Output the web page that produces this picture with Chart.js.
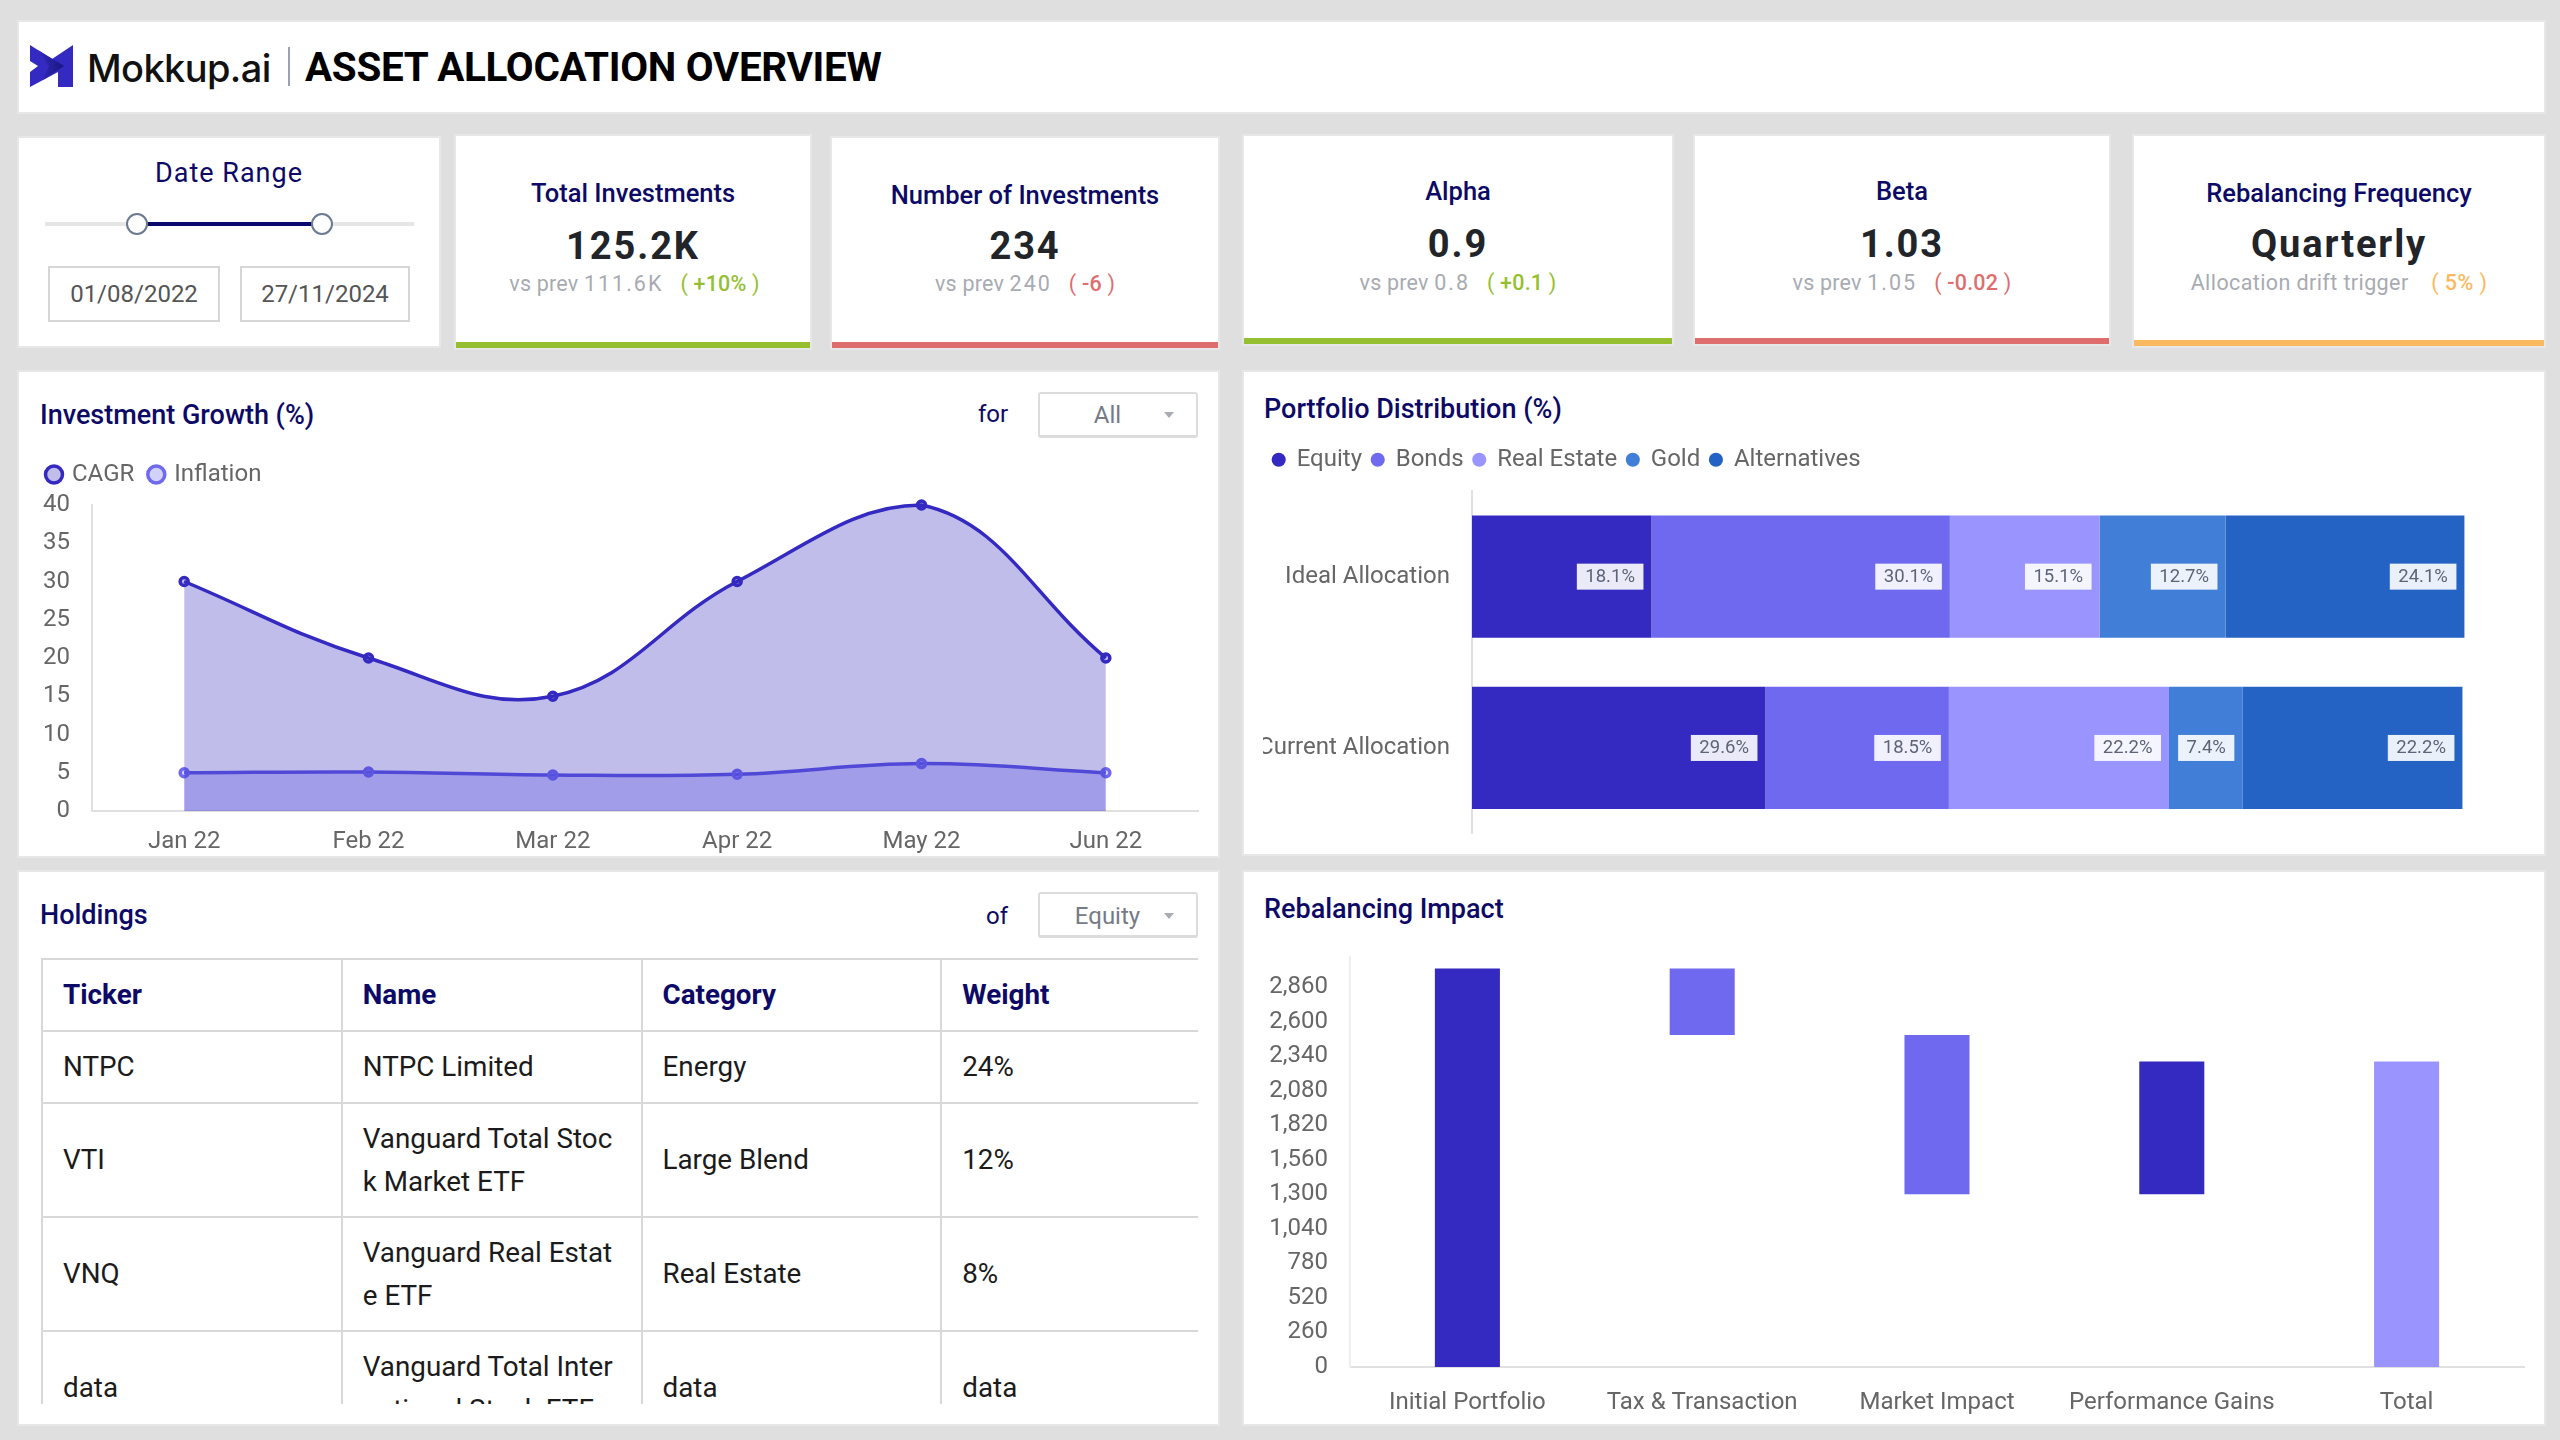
<!DOCTYPE html>
<html><head><meta charset="utf-8">
<script src="https://cdn.jsdelivr.net/npm/chart.js@4/dist/chart.umd.js"></script>
<style>
*{box-sizing:border-box}
html,body{margin:0;padding:0;background:#dfdfdf;width:2560px;height:1440px;overflow:hidden;font-family:Roboto,sans-serif}
.p{position:absolute;background:#fff;outline:2px solid #e7e7e7}
.t{position:absolute;white-space:nowrap;line-height:1}
.c{transform:translate(-50%,-50%)}
.m{transform:translateY(-50%)}
.navy{color:#0c0a66}
.title{font-size:27px;font-weight:500;color:#0c0a66}
.kt{font-size:25.5px;font-weight:500;color:#0c0a66}
.kv{font-size:38px;font-weight:700;color:#212529;letter-spacing:1.9px}
.ks{font-size:21.5px;color:#a8abb2;letter-spacing:.2px}
.ks i{font-style:normal;letter-spacing:2px;margin-right:11px}
.ks b{font-weight:400;margin-left:6px}
.ks b em{font-style:normal;font-weight:500}
.bar{position:absolute;left:0;right:0;bottom:0;height:6px}
.sel{position:absolute;border:2px solid #dcdcdc;border-bottom-width:3px;border-radius:3px;background:#fff}
.caret{position:absolute;width:0;height:0;border-left:5px solid transparent;border-right:5px solid transparent;border-top:6px solid #a9adb3}
canvas{position:absolute;display:block}
table{border-collapse:collapse;table-layout:fixed;width:1200px;font-size:27.8px;color:#1b1b1b}
td,th{border:2px solid #d8d8d8;padding:1px 20px 0;text-align:left;word-break:break-all;line-height:42.5px;font-weight:400}
th{color:#0c0a66;font-weight:700;height:72px}
tr.one td{height:72px}tr.two td{height:114px}
tr td:last-child,tr th:last-child{border-right:none}
</style></head><body>
<div class="p" style="left:19px;top:22px;width:2525px;height:90px"></div>
<svg style="position:absolute;left:30px;top:45px" width="44" height="43" viewBox="0 0 44 43">
<defs><linearGradient id="lg" x1="0" x2="1"><stop offset="0" stop-color="#3429c0"/><stop offset="1" stop-color="#17177c"/></linearGradient></defs>
<path d="M0 0 L22 14 L43 0 L43 42 L28 42 L28 27 L0 42 L0 27 L8 21 L0 16 Z" fill="#3429c0"/>
<path d="M8 5 L34 21 L13 35 L19 21 Z" fill="url(#lg)"/></svg>
<div class="t m" id="brand" style="left:87px;top:68px;font-size:38px;font-weight:500;font-family:Inter;color:#111;letter-spacing:-.6px">Mokkup.ai</div>
<div style="position:absolute;left:288px;top:47px;width:2px;height:39px;background:#9aa3b2"></div>
<div class="t m" style="left:305px;top:68px;font-size:40.4px;font-weight:700;color:#000;letter-spacing:-.3px">ASSET ALLOCATION OVERVIEW</div>

<div class="p" style="left:19px;top:138px;width:420px;height:208px"></div>
<div class="t c navy" style="left:229px;top:172.5px;font-size:27px;letter-spacing:1px">Date Range</div>
<div style="position:absolute;left:45px;top:222px;width:369px;height:4px;background:#e6e6e6"></div>
<div style="position:absolute;left:136px;top:222px;width:185px;height:4px;background:#0a0a6e"></div>
<div style="position:absolute;left:126px;top:213px;width:22px;height:22px;border-radius:50%;background:#fff;border:2px solid #6c7a8f"></div>
<div style="position:absolute;left:311px;top:213px;width:22px;height:22px;border-radius:50%;background:#fff;border:2px solid #6c7a8f"></div>
<div class="t" style="left:48px;top:266px;width:172px;height:56px;border:2px solid #d6d6d6;font-size:24px;color:#555;line-height:52px;text-align:center">01/08/2022</div>
<div class="t" style="left:240px;top:266px;width:170px;height:56px;border:2px solid #d6d6d6;font-size:24px;color:#555;line-height:52px;text-align:center">27/11/2024</div>

<div class="p" style="left:456px;top:136px;width:354px;height:212px"><div class="bar" style="background:#95bf30"></div></div>
<div class="t c kt" style="left:633px;top:193.5px">Total Investments</div>
<div class="t c kv" style="left:633px;top:245.5px">125.2K</div>
<div class="t c ks" style="left:634.5px;top:284px">vs prev <i>111.6K</i><b style="color:#95bf30">( <em>+10%</em> )</b></div>

<div class="p" style="left:832px;top:138px;width:386px;height:210px"><div class="bar" style="background:#de6e6e"></div></div>
<div class="t c kt" style="left:1025px;top:196px">Number of Investments</div>
<div class="t c kv" style="left:1025px;top:245.5px">234</div>
<div class="t c ks" style="left:1025px;top:284px">vs prev <i>240</i><b style="color:#de6e6e">( <em>-6</em> )</b></div>

<div class="p" style="left:1244px;top:136px;width:428px;height:208px"><div class="bar" style="background:#95bf30"></div></div>
<div class="t c kt" style="left:1458px;top:191.5px">Alpha</div>
<div class="t c kv" style="left:1458px;top:243.5px">0.9</div>
<div class="t c ks" style="left:1458px;top:282.5px">vs prev <i>0.8</i><b style="color:#95bf30">( <em>+0.1</em> )</b></div>

<div class="p" style="left:1695px;top:136px;width:414px;height:208px"><div class="bar" style="background:#de6e6e"></div></div>
<div class="t c kt" style="left:1902px;top:191.5px">Beta</div>
<div class="t c kv" style="left:1902px;top:243.5px">1.03</div>
<div class="t c ks" style="left:1902px;top:282.5px">vs prev <i>1.05</i><b style="color:#de6e6e">( <em>-0.02</em> )</b></div>

<div class="p" style="left:2134px;top:136px;width:410px;height:210px"><div class="bar" style="background:#fbb95f"></div></div>
<div class="t c kt" style="left:2339px;top:193.5px">Rebalancing Frequency</div>
<div class="t c kv" style="left:2339px;top:243.5px">Quarterly</div>
<div class="t c ks" style="left:2339px;top:282.5px;letter-spacing:.4px">Allocation drift trigger<i></i> <b style="color:#fbb95f">( <em>5%</em> )</b></div>

<div class="p" style="left:19px;top:372px;width:1199px;height:484px"></div>
<div class="p" style="left:1244px;top:372px;width:1300px;height:482px"></div>
<div class="p" style="left:19px;top:872px;width:1199px;height:552px"></div>
<div class="p" style="left:1244px;top:872px;width:1300px;height:552px"></div>

<div class="t m title" style="left:40px;top:415px">Investment Growth (%)</div>
<div class="t m navy" style="left:978px;top:414px;font-size:24px">for</div>
<div class="sel" style="left:1038px;top:392px;width:160px;height:46px"></div>
<div class="t c" style="left:1107.5px;top:415px;font-size:24px;color:#757b87">All</div>
<div class="caret" style="left:1164px;top:412px"></div>

<div class="t m title" style="left:1264px;top:409px">Portfolio Distribution (%)</div>

<div class="t m title" style="left:40px;top:915px">Holdings</div>
<div class="t m navy" style="left:986px;top:916px;font-size:24px">of</div>
<div class="sel" style="left:1038px;top:892px;width:160px;height:46px"></div>
<div class="t c" style="left:1107.5px;top:916px;font-size:24px;color:#757b87">Equity</div>
<div class="caret" style="left:1164px;top:913px"></div>

<div class="t m title" style="left:1264px;top:909px">Rebalancing Impact</div>

<div id="tw" style="position:absolute;left:41px;top:958px;width:1157px;height:446px;overflow:hidden"></div>

<canvas id="growth" style="left:19px;top:372px" width="1199" height="484"></canvas>
<canvas id="dist" style="left:1263px;top:372px" width="1281" height="498"></canvas>
<canvas id="rebal" style="left:1244px;top:872px" width="1300" height="552"></canvas>

<script>
const months = ['Jan 22','Feb 22','Mar 22','Apr 22','May 22','Jun 22'];
const cagr = [30,20,15,30,40,20];
const inflation = [5,5.1,4.7,4.8,6.2,5];

const allocations = ['Ideal Allocation','Current Allocation'];
const equity = [18.1,29.6];
const bonds = [30.1,18.5];
const realEstate = [15.1,22.2];
const gold = [12.7,7.4];
const alternatives = [24.1,22.2];

const steps = ['Initial Portfolio','Tax & Transaction','Market Impact','Performance Gains','Total'];
const stepRanges = [[0,3000],[2500,3000],[1300,2500],[1300,2300],[0,2300]];
const stepTicks = [0,260,520,780,1040,1300,1560,1820,2080,2340,2600,2860];

const tableHead = ['Ticker','Name','Category','Weight'];
const tableRows = [
 ['NTPC','NTPC Limited','Energy','24%'],
 ['VTI','Vanguard Total Stock Market ETF','Large Blend','12%'],
 ['VNQ','Vanguard Real Estate ETF','Real Estate','8%'],
 ['data','Vanguard Total International Stock ETF','data','data']
];

const C1='#3429c0',C2='#6f69f0',C3='#9a94ff',C4='#417ed8',C5='#2463c4';
const GREY='#666666';
const AXIS='#e0e0e0';
const FONT='Roboto';

let h='<table><tr>'+tableHead.map(x=>'<th>'+x+'</th>').join('')+'</tr>';
tableRows.forEach((r,i)=>{h+='<tr class="'+(i==0?'one':'two')+'">'+r.map(x=>'<td>'+x+'</td>').join('')+'</tr>'});
document.getElementById('tw').innerHTML=h+'</table>';

Chart.defaults.font.family=FONT;
Chart.defaults.font.size=24;
Chart.defaults.color=GREY;
Chart.defaults.animation=false;
Chart.defaults.responsive=false;
Chart.defaults.devicePixelRatio=1;

const legendHeight = h=>({id:'lh',beforeLayout(chart){
  const l=chart.legend; if(l._w) return; l._w=1; const f=l.fit.bind(l);
  l.fit=function(){f(); l.height=h;};
}});
const sized=(w,ht)=>s=>{ if(w!=null) s.width=w; if(ht!=null) s.height=ht; };

new Chart(document.getElementById('growth'),{
  type:'line',
  data:{labels:months,datasets:[
   {label:'CAGR',data:cagr,clip:10,borderColor:C1,backgroundColor:'rgba(52,41,192,0.31)',fill:'origin',tension:0.4,borderWidth:3.5,pointRadius:4,pointBorderWidth:3.5,pointBackgroundColor:'rgba(52,41,192,0.31)',pointBorderColor:C1},
   {label:'Inflation',data:inflation,clip:10,borderColor:'#5d57e4',backgroundColor:'rgba(111,105,240,0.31)',fill:'origin',tension:0.4,borderWidth:3.5,pointRadius:4,pointBorderWidth:3.5,pointBackgroundColor:'rgba(111,105,240,0.31)',pointBorderColor:C2}
  ]},
  options:{
   layout:{padding:{left:13,right:20,top:74.5,bottom:0}},
   plugins:{legend:{position:'top',align:'start',labels:{usePointStyle:true,boxWidth:12,boxHeight:12,padding:16,color:GREY,font:{size:24}}},tooltip:{enabled:false}},
   scales:{
    x:{offset:true,grid:{display:false,drawTicks:false},border:{color:AXIS,width:2},ticks:{padding:17,color:GREY,maxRotation:0},afterFit:sized(null,45)},
    y:{min:0,max:40,grid:{display:false,drawTicks:false},border:{color:AXIS,width:2},ticks:{stepSize:5,padding:22,color:GREY},afterFit:sized(60,null)}
   }
  },
  plugins:[legendHeight(58.5)]
});

const valueBoxes={id:'valueBoxes',afterDatasetsDraw(chart){
  const ctx=chart.ctx; ctx.save();
  ctx.font='18.5px '+FONT; ctx.textBaseline='middle'; ctx.textAlign='center';
  chart.data.datasets.forEach((ds,i)=>{
    chart.getDatasetMeta(i).data.forEach((el,j)=>{
      const t=ds.data[j]+'%'; const w=ctx.measureText(t).width+17;
      const r=el.x-8, y=el.y;
      ctx.fillStyle='rgba(255,255,255,0.9)'; ctx.fillRect(r-w,y-13,w,26);
      ctx.fillStyle='#5d6478'; ctx.fillText(t,r-w/2,y+.5);
    });
  });
  ctx.restore();
}};
const barSet=(label,data,c)=>({label,data,backgroundColor:c,stack:'a',barPercentage:0.714,categoryPercentage:1,borderWidth:0});
new Chart(document.getElementById('dist'),{
  type:'bar',
  data:{labels:allocations,datasets:[barSet('Equity',equity,C1),barSet('Bonds',bonds,C2),barSet('Real Estate',realEstate,C3),barSet('Gold',gold,C4),barSet('Alternatives',alternatives,C5)]},
  options:{
   indexAxis:'y',
   layout:{padding:{left:0,right:31,top:66,bottom:0}},
   plugins:{legend:{position:'top',align:'start',labels:{usePointStyle:true,boxWidth:12,boxHeight:10,padding:9.7,color:GREY,font:{size:24}}},tooltip:{enabled:false}},
   scales:{
    x:{stacked:true,display:false,min:0,max:105},
    y:{stacked:true,grid:{display:false,drawTicks:false},border:{color:AXIS,width:2},ticks:{padding:22,color:GREY},afterFit:sized(209,null)}
   }
  },
  plugins:[valueBoxes,legendHeight(53)]
});

new Chart(document.getElementById('rebal'),{
  type:'bar',
  data:{labels:steps,datasets:[{label:'Impact',data:stepRanges,backgroundColor:[C1,C2,C2,C1,C3],barPercentage:0.277,categoryPercentage:1,borderWidth:0}]},
  options:{
   layout:{padding:{left:0,right:20,top:85,bottom:0}},
   plugins:{legend:{display:false},tooltip:{enabled:false}},
   scales:{
    x:{grid:{display:false,drawTicks:false},border:{color:AXIS,width:2},ticks:{padding:22,color:GREY,maxRotation:0,autoSkip:false},afterFit:sized(null,57)},
    y:{min:0,max:3087,grid:{display:false,drawTicks:false},border:{color:'#eeeeee',width:2},afterBuildTicks:s=>{s.ticks=stepTicks.map(v=>({value:v}))},ticks:{autoSkip:false,padding:22,color:GREY,callback:v=>v.toLocaleString('en-US')},afterFit:sized(106,null)}
   }
  }
});
</script>
</body></html>
